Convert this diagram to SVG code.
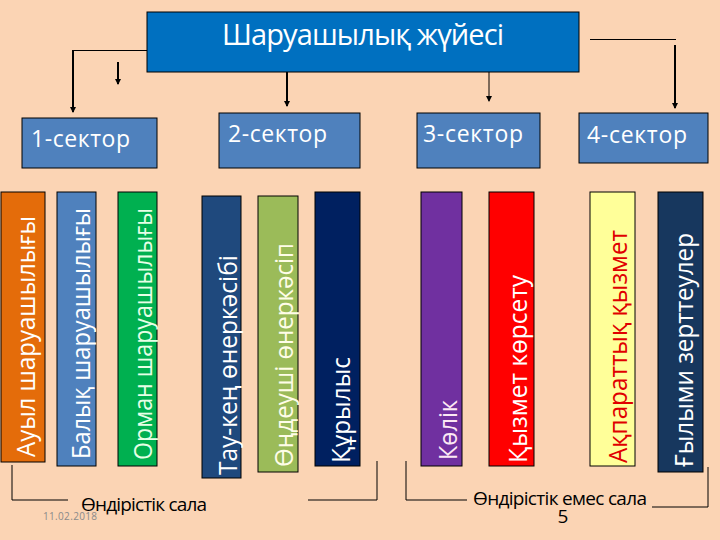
<svg xmlns="http://www.w3.org/2000/svg" width="720" height="540" viewBox="0 0 720 540">
<defs>
<marker id="ah" markerWidth="6" markerHeight="6" refX="5" refY="3" orient="auto" markerUnits="userSpaceOnUse">
<path d="M0,0 L6,3 L0,6 Z" fill="#000"/>
</marker>
<style>
.box{stroke:#000;stroke-width:1}
.sec{fill:#4F81BD;stroke:#000;stroke-width:1}
.bar{stroke:#000;stroke-width:1}
.t{font-family:"Open Sans","DejaVu Sans",sans-serif}
.sl{font-family:"Open Sans","DejaVu Sans",sans-serif;font-size:23px;fill:#fff}
.vt{font-family:"Open Sans","DejaVu Sans",sans-serif;font-size:26px}
.ln{fill:none;stroke:#000;stroke-width:1}
.lnb{fill:none;stroke:#000;stroke-width:2}
.lb{font-family:"Open Sans","DejaVu Sans",sans-serif;font-size:19px;fill:#000}
</style>
</defs>
<rect width="720" height="540" fill="#FBD4B4"/>

<g id="root">
<rect class="box" x="147" y="12" width="432" height="60" fill="#0070C0"/>
<text class="t" x="363" y="45" font-size="29" fill="#fff" text-anchor="middle" textLength="282">Шаруашылық жүйесі</text>
</g>

<g id="sector1"><rect class="sec" x="22" y="118" width="135" height="50"/><text class="sl" x="31" y="147" textLength="99">1-сектор</text></g>
<g id="sector2"><rect class="sec" x="219" y="113" width="141" height="55"/><text class="sl" x="228" y="142" textLength="99">2-сектор</text></g>
<g id="sector3"><rect class="sec" x="417" y="113" width="123" height="55"/><text class="sl" x="423" y="142" textLength="100">3-сектор</text></g>
<g id="sector4"><rect class="sec" x="579" y="113" width="129" height="50"/><text class="sl" x="587" y="143" textLength="100">4-сектор</text></g>

<g id="connectors">
<polyline class="ln" points="147,50.5 73,50.5"/>
<line class="lnb" x1="73" y1="50" x2="73" y2="112" marker-end="url(#ah)"/>
<line class="lnb" x1="118" y1="62" x2="118" y2="84" marker-end="url(#ah)"/>
<line class="lnb" x1="287" y1="72" x2="287" y2="106" marker-end="url(#ah)"/>
<line class="ln" x1="489" y1="72" x2="489" y2="101" marker-end="url(#ah)"/>
<line class="ln" x1="590" y1="39.5" x2="676" y2="39.5"/>
<line class="lnb" x1="675" y1="45" x2="675" y2="108" marker-end="url(#ah)"/>
<polyline class="ln" points="12,465 12,500 68,500"/>
<polyline class="ln" points="308,500 377,500 377,461"/>
<polyline class="ln" points="406,461 406,500 467,500"/>
<polyline class="ln" points="652,507 708,507 708,467"/>
</g>

<g id="bar1"><rect class="bar" x="1" y="192" width="44" height="270" fill="#E46C0A"/><text class="vt" fill="#fff" transform="translate(35,457) rotate(-90)" textLength="241" lengthAdjust="spacingAndGlyphs">Ауыл шаруашылығы</text></g>
<g id="bar2"><rect class="bar" x="57" y="192" width="39" height="274" fill="#4F81BD"/><text class="vt" fill="#fff" transform="translate(90,459) rotate(-90)" textLength="251" lengthAdjust="spacingAndGlyphs">Балық шаруашылығы</text></g>
<g id="bar3"><rect class="bar" x="118" y="192" width="39" height="274" fill="#00B050"/><text class="vt" fill="#E6FFE6" transform="translate(152,460) rotate(-90)" textLength="252" lengthAdjust="spacingAndGlyphs">Орман шаруашылығы</text></g>
<g id="bar4"><rect class="bar" x="202" y="196" width="39" height="282" fill="#1F497D"/><text class="vt" fill="#fff" transform="translate(237,475) rotate(-90)" textLength="220" lengthAdjust="spacingAndGlyphs">Тау-кең өнеркәсібі</text></g>
<g id="bar5"><rect class="bar" x="258" y="196" width="40" height="276" fill="#9BBB59"/><text class="vt" fill="#FFFDE8" transform="translate(293,467) rotate(-90)" textLength="224" lengthAdjust="spacingAndGlyphs">Өңдеуші өнеркәсіп</text></g>
<g id="bar6"><rect class="bar" x="315" y="192" width="45" height="274" fill="#002060"/><text class="vt" fill="#fff" transform="translate(350,463) rotate(-90)" textLength="106" lengthAdjust="spacingAndGlyphs">Құрылыс</text></g>
<g id="bar7"><rect class="bar" x="421" y="192" width="41" height="274" fill="#7030A0"/><text class="vt" fill="#FCE8F4" transform="translate(457,460) rotate(-90)" textLength="60" lengthAdjust="spacingAndGlyphs">Көлік</text></g>
<g id="bar8"><rect class="bar" x="489" y="192" width="45" height="274" fill="#FF0000"/><text class="vt" fill="#fff" transform="translate(527,463) rotate(-90)" textLength="188" lengthAdjust="spacingAndGlyphs">Қызмет көрсету</text></g>
<g id="bar9"><rect class="bar" x="590" y="192" width="45" height="274" fill="#FFFF99"/><text class="vt" fill="#E00000" transform="translate(627,463) rotate(-90)" textLength="233" lengthAdjust="spacingAndGlyphs">Ақпараттық қызмет</text></g>
<g id="bar10"><rect class="bar" x="658" y="192" width="45" height="280" fill="#17375E"/><text class="vt" fill="#fff" transform="translate(693,467) rotate(-90)" textLength="234" lengthAdjust="spacingAndGlyphs">Ғылыми зерттеулер</text></g>

<g id="labels">
<text class="t" x="43" y="520" font-size="10" fill="#8A8A8A" textLength="54">11.02.2018</text>
<text class="lb" x="81" y="511" textLength="126">Өндірістік сала</text>
<text class="lb" x="473" y="505" textLength="174">Өндірістік емес сала</text>
<text class="lb" x="563" y="523" text-anchor="middle">5</text>
</g>
</svg>
